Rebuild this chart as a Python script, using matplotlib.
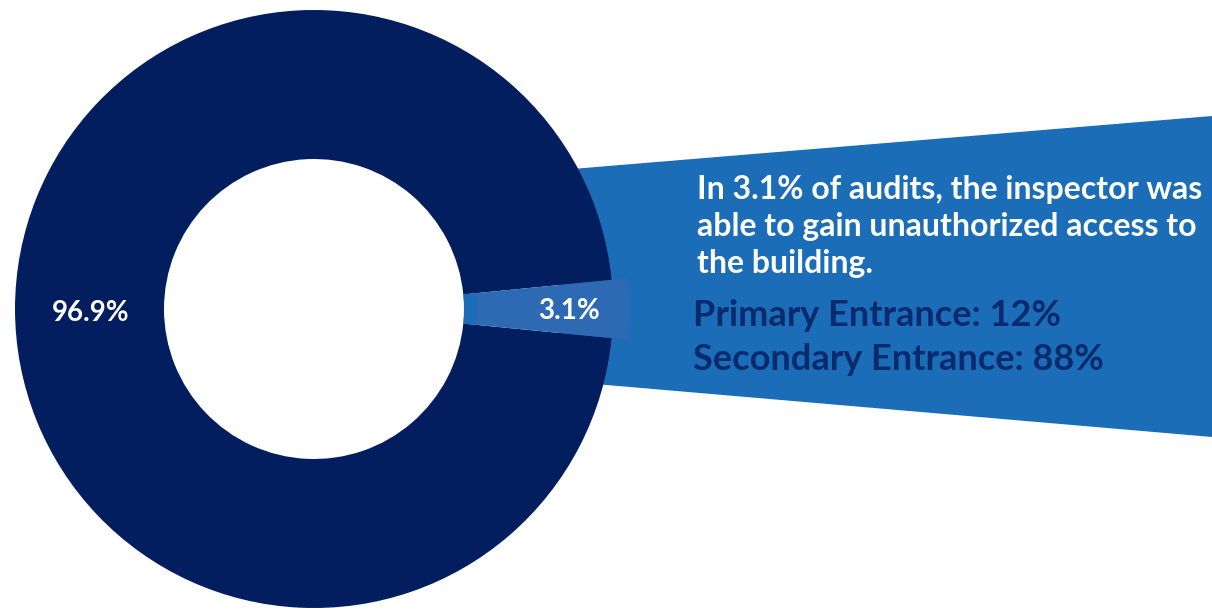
import matplotlib.pyplot as plt

# данные
labels = ["Unauthorized access not gained", "Unauthorized access gained"]
shares = [96.9, 3.1]
entrances = ["Primary Entrance", "Secondary Entrance"]
entrance_shares = [12, 88]

navy = "#021e5f"
blue = "#1a6db6"
slice_blue = "#2e6ab4"

fig = plt.figure(figsize=(12.12, 6.13), dpi=100)
ax = fig.add_axes([0, 0, 1, 1])

cx, cy = 314, 309
r_out, r_in = 299, 150

# синяя подложка-выноска
ax.fill([560, 1212, 1212, 560], [170, 116, 437, 381], color=blue, zorder=0, lw=0)

# кольцо; маленький сектор по центру вправо
start = 360 * shares[1] / 100 / 2
wedges, _ = ax.pie(shares, colors=[navy, slice_blue], startangle=start,
                   center=(cx, cy), radius=r_out,
                   wedgeprops=dict(width=r_out - r_in, lw=0), frame=True)
# выдвинутый сектор
wedges[1].set_radius(315)
wedges[1].set_width(315 - r_in)
ax.pie(shares, colors=["none", blue], startangle=start,
       center=(cx, cy), radius=r_in + 13,
       wedgeprops=dict(width=13, lw=0), frame=True)

ax.set_xlim(0, 1212)
ax.set_ylim(613, 0)
ax.set_aspect("equal")
ax.axis("off")

font = ["Lato", "DejaVu Sans"]
ax.text(91, 313, f"{shares[0]}%", color="white", fontsize=20, fontweight="bold",
        ha="center", va="center", family=font)
ax.text(569, 311, f"{shares[1]}%", color="white", fontsize=20, fontweight="bold",
        ha="center", va="center", family=font)

lines = [f"In {shares[1]}% of audits, the inspector was",
         "able to gain unauthorized access to",
         "the building."]
for i, line in enumerate(lines):
    ax.text(697, 189 + 37.5 * i, line, color="white", fontsize=23,
            fontweight="bold", ha="left", va="center", family=font)
for i, (name, val) in enumerate(zip(entrances, entrance_shares)):
    ax.text(693, 316 + 43 * i, f"{name}: {val}%", color="#0a2a6e", fontsize=26,
            fontweight="bold", ha="left", va="center", family=font)

fig.savefig("out.png", dpi=100)
